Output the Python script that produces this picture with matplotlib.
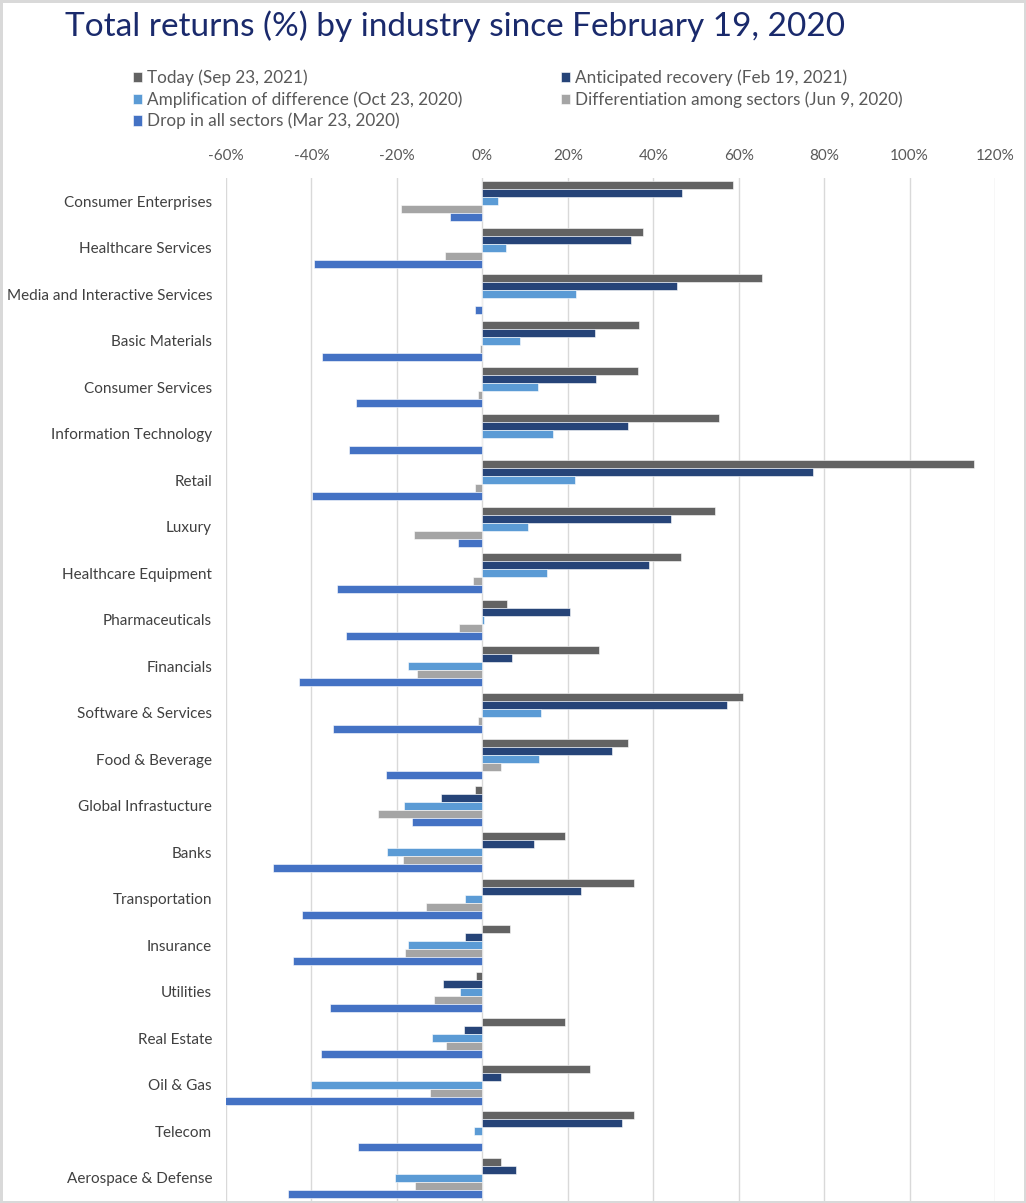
import matplotlib
matplotlib.use("Agg")
import matplotlib.pyplot as plt
import numpy as np
from matplotlib.ticker import FuncFormatter

plt.rcParams["font.family"] = ["Lato", "DejaVu Sans"]

categories = [
    "Consumer Enterprises", "Healthcare Services", "Media and Interactive Services",
    "Basic Materials", "Consumer Services", "Information Technology", "Retail",
    "Luxury", "Healthcare Equipment", "Pharmaceuticals", "Financials",
    "Software & Services", "Food & Beverage", "Global Infrastucture", "Banks",
    "Transportation", "Insurance", "Utilities", "Real Estate", "Oil & Gas",
    "Telecom", "Aerospace & Defense",
]

# values in percent
today = [58.7, 37.6, 65.4, 36.7, 36.5, 55.3, 115.2, 54.4, 46.6, 5.7, 27.3,
         60.9, 34.1, -1.6, 19.3, 35.4, 6.5, -1.4, 19.3, 25.2, 35.4, 4.3]
anticipated = [46.7, 34.7, 45.6, 26.3, 26.6, 34.1, 77.5, 44.1, 38.9, 20.6, 7.0,
               57.2, 30.3, -9.6, 12.2, 23.2, -4.1, -9.3, -4.3, 4.3, 32.7, 7.8]
amplification = [3.6, 5.5, 21.9, 8.8, 13.0, 16.5, 21.7, 10.8, 15.1, 0.4, -17.3,
                 13.7, 13.2, -18.4, -22.2, -4.1, -17.3, -5.3, -11.7, -40.1, -2.0, -20.4]
differentiation = [-19.0, -8.8, 0.0, -0.6, -1.0, 0.0, -1.6, -16.1, -2.2, -5.5, -15.2,
                   -1.0, 4.3, -24.4, -18.5, -13.1, -18.1, -11.4, -8.5, -12.2, 0.0, -15.8]
drop = [-7.5, -39.3, -1.8, -37.6, -29.6, -31.1, -39.9, -5.8, -34.1, -32.0, -42.9,
        -34.9, -22.5, -16.5, -49.1, -42.1, -44.4, -35.7, -37.8, -60.4, -29.2, -45.6]

series = [
    ("Today (Sep 23, 2021)", today, "#636363"),
    ("Anticipated recovery (Feb 19, 2021)", anticipated, "#264478"),
    ("Amplification of difference (Oct 23, 2020)", amplification, "#5b9bd5"),
    ("Differentiation among sectors (Jun 9, 2020)", differentiation, "#a5a5a5"),
    ("Drop in all sectors (Mar 23, 2020)", drop, "#4472c4"),
]

W, H = 1026, 1203
fig = plt.figure(figsize=(W / 100, H / 100), dpi=100,
                 edgecolor="#d9d9d9", linewidth=2.5)
ax = fig.add_axes([226 / W, 1 - 1201 / H, (995 - 226) / W, (1201 - 178) / H])

y = np.arange(len(categories))
h = 0.17
handles = []
for i, (label, vals, color) in enumerate(series):
    b = ax.barh(y + (i - 2) * h, vals, height=h, color=color,
                edgecolor="white", linewidth=0.4, label=label)
    handles.append(b)

ax.set_xlim(-60, 120)
ax.set_ylim(len(categories) - 0.5, -0.5)
ax.set_xticks(range(-60, 121, 20))
ax.xaxis.set_major_formatter(FuncFormatter(lambda v, p: f"{v:.0f}%"))
ax.xaxis.tick_top()
ax.set_yticks(y)
ax.set_yticklabels(categories)
ax.tick_params(axis="x", length=0, pad=10.5, labelsize=11, labelcolor="#595959")
ax.tick_params(axis="y", length=0, pad=10, labelsize=11, labelcolor="#404040")
ax.grid(axis="x", color="#d9d9d9", linewidth=1)
ax.set_axisbelow(True)
for s in ax.spines.values():
    s.set_visible(False)

fig.text(455 / W, 1 - 26 / H, "Total returns (%) by industry since February 19, 2020",
         ha="center", va="center", fontsize=24, color="#1a2a6c")

order = [0, 2, 4, 1, 3]
fig.legend([handles[k] for k in order], [series[k][0] for k in order],
           loc="upper left", bbox_to_anchor=(124 / W, 1 - 61 / H), ncol=2,
           frameon=False, fontsize=12.3, labelcolor="#595959",
           handlelength=0.55, handleheight=0.55, handletextpad=0.3,
           columnspacing=5.75, labelspacing=0.3, borderpad=0)

fig.savefig("out.png", dpi=100)
